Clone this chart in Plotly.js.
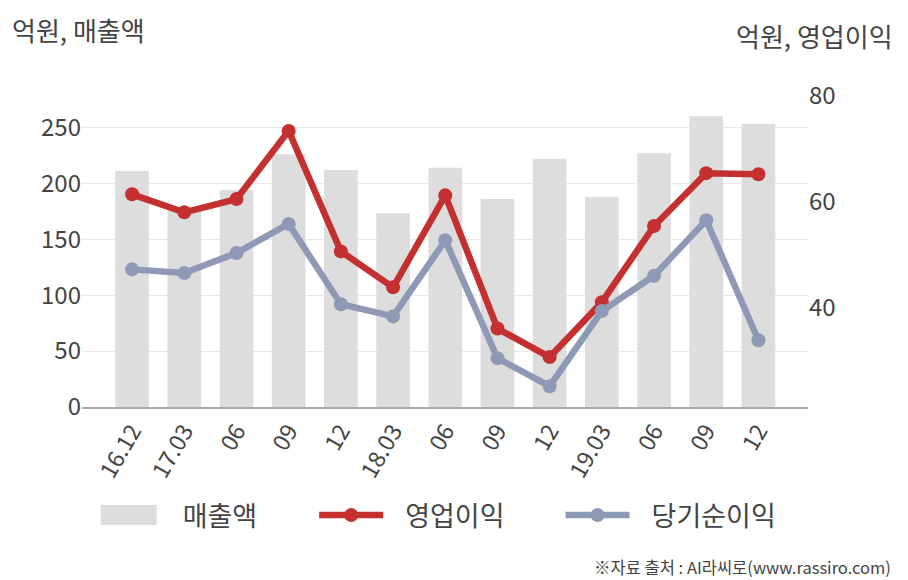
<!DOCTYPE html>
<html>
<head>
<meta charset="utf-8">
<script src="https://cdn.plot.ly/plotly-3.0.1.min.js"></script>
<style>html,body{margin:0;padding:0;background:#fff}#chart{width:908px;height:580px}</style>
</head>
<body>
<div id="chart"></div>
<script>
const categories = ["16.12","17.03","06","09","12","18.03","06","09","12","19.03","06","09","12"];
const sales = [211, 177, 194, 226, 212, 173, 214, 186, 222, 188, 227, 260, 253];
const operatingProfit = [61.4, 58.0, 60.5, 73.4, 50.6, 43.8, 61.2, 36.0, 30.6, 41.0, 55.4, 65.4, 65.2];
const netIncome = [47.2, 46.5, 50.3, 55.8, 40.6, 38.3, 52.7, 30.4, 25.1, 39.3, 46.0, 56.5, 33.8];
const leftTicks = [0, 50, 100, 150, 200, 250];
const rightTicks = [40, 60, 80];

const idx = categories.map((_, i) => i);
const FONT = '"Noto Sans CJK KR", "Noto Sans", sans-serif';

const traces = [
  {type:'bar', name:'매출액', x: idx, y: sales, width:0.645,
   marker:{color:'#dddddd'}, yaxis:'y', hoverinfo:'skip'},
  {type:'scatter', mode:'lines+markers', name:'영업이익', x: idx, y: operatingProfit, yaxis:'y2',
   line:{color:'#c3302f', width:6.5}, marker:{color:'#c3302f', size:14}},
  {type:'scatter', mode:'lines+markers', name:'당기순이익', x: idx, y: netIncome, yaxis:'y2',
   line:{color:'#8e9ab5', width:6.5}, marker:{color:'#8e9ab5', size:14}}
];

const layout = {
  width: 908, height: 580,
  margin: {l:82, r:100, t:96, b:173, autoexpand:false},
  paper_bgcolor:'#fff', plot_bgcolor:'#fff',
  font: {family: FONT, color:'#444', size:22},
  showlegend: true,
  legend: {orientation:'h', x:0.494, xanchor:'center', y:-0.349, yanchor:'middle',
           bgcolor:'rgba(0,0,0,0)',
           font:{size:27, color:'#444', family: FONT}, itemwidth:64, traceorder:'normal'},
  xaxis: {range:[-0.96, 12.95], tickmode:'array', tickvals: idx, ticktext: categories,
          tickangle:-60, showgrid:false, zeroline:false, showline:true, linecolor:'#aaaaaa', linewidth:1.5,
          ticks:'', tickfont:{size:23, color:'#444'}, automargin:false},
  yaxis: {range:[0, 278.1], tickmode:'array', tickvals: leftTicks, showgrid:true, gridcolor:'#e8e8e8',
          gridwidth:1, zeroline:false, showline:false, ticks:'', tickfont:{size:24, color:'#444'}, automargin:false},
  yaxis2: {range:[21.16, 80], overlaying:'y', side:'right', tickmode:'array', tickvals: rightTicks,
           showgrid:false, zeroline:false, showline:false, ticks:'', tickfont:{size:24, color:'#444'}, automargin:false},
  annotations: [
    {xref:'paper', yref:'paper', x:-0.0992, y:1.2124, xanchor:'left', yanchor:'middle', showarrow:false,
     text:'억원, 매출액', font:{size:26, color:'#444', family: FONT}},
    {xref:'paper', yref:'paper', x:1.1198, y:1.196, xanchor:'right', yanchor:'middle', showarrow:false,
     text:'억원, 영업이익', font:{size:26, color:'#444', family: FONT}},
    {xref:'paper', yref:'paper', x:1.117, y:-0.513, xanchor:'right', yanchor:'middle', showarrow:false,
     text:'※자료 출처 : AI라씨로(www.rassiro.com)', font:{size:16.5, color:'#444', family: FONT}}
  ]
};

Plotly.newPlot('chart', traces, layout, {displayModeBar:false, staticPlot:true}).then(function(gd){
  gd.querySelectorAll('.legend [clip-path], .legend').forEach(function(el){ el.removeAttribute('clip-path'); });
  const items = gd.querySelectorAll('.legend .traces');
  const groupShift = [-81, -12, 56];
  items.forEach(function(g, i){
    if (i === 0) {
      const p = g.querySelector('.legendpoints path');
      if (p) p.setAttribute('d', 'M28,10H-28V-10H28Z');
    }
    const t = g.getAttribute('transform') || '';
    g.setAttribute('transform', t + ' translate(' + (groupShift[i] || 0) + ',0)');
    const txt = g.querySelector('.legendtext');
    if (txt) txt.setAttribute('transform', 'translate(17,0)');
  });
});
</script>
</body>
</html>
